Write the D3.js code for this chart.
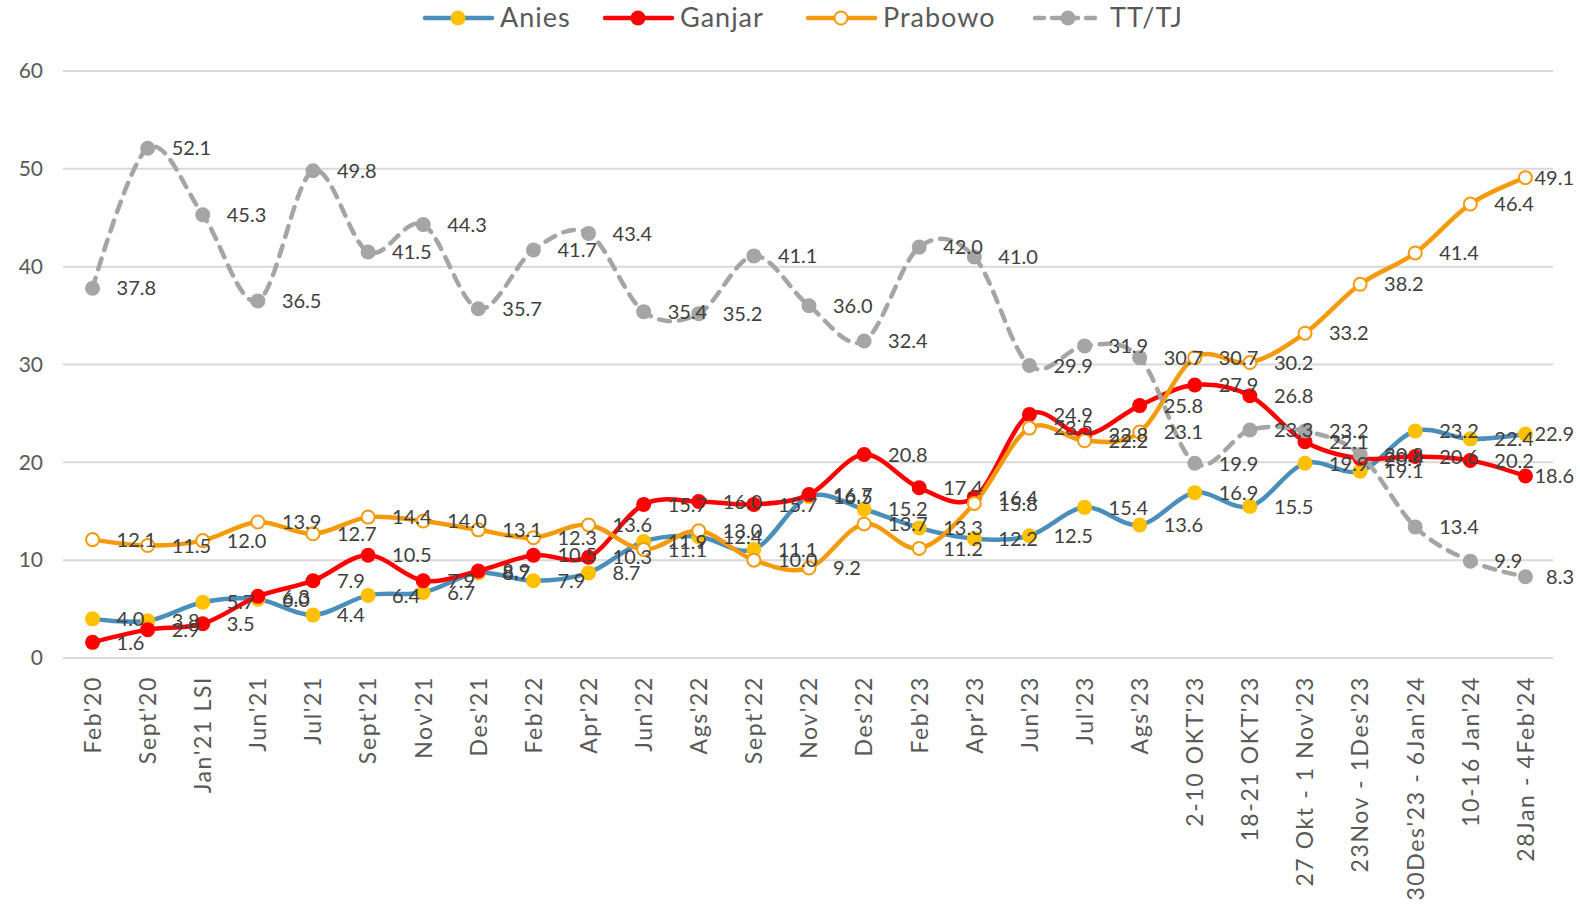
<!DOCTYPE html>
<html>
<head>
<meta charset="utf-8">
<script src="https://cdn.jsdelivr.net/npm/d3@7"></script>
<style>
  body { margin: 0; background: #fff; }
  text { font-family: Lato, "Open Sans", sans-serif; }
</style>
</head>
<body>
<div class="root"></div>
<script>
const categories = ["Feb'20", "Sept'20", "Jan'21 LSI", "Jun'21", "Jul'21", "Sept'21", "Nov'21", "Des'21",
  "Feb'22", "Apr'22", "Jun'22", "Ags'22", "Sept'22", "Nov'22", "Des'22", "Feb'23", "Apr'23", "Jun'23",
  "Jul'23", "Ags'23", "2-10 OKT'23", "18-21 OKT'23", "27 Okt - 1 Nov'23", "23Nov - 1Des'23",
  "30Des'23 - 6Jan'24", "10-16 Jan'24", "28Jan - 4Feb'24"];

const anies = [4.0, 3.8, 5.7, 6.0, 4.4, 6.4, 6.7, 8.7, 7.9, 8.7, 11.9, 12.4, 11.1, 16.5, 15.2, 13.3, 12.2,
  12.5, 15.4, 13.6, 16.9, 15.5, 19.9, 19.1, 23.2, 22.4, 22.9];
const ganjar = [1.6, 2.9, 3.5, 6.3, 7.9, 10.5, 7.9, 8.9, 10.5, 10.3, 15.7, 16.0, 15.7, 16.7, 20.8, 17.4, 16.4,
  24.9, 22.8, 25.8, 27.9, 26.8, 22.1, 20.4, 20.6, 20.2, 18.6];
const prabowo = [12.1, 11.5, 12.0, 13.9, 12.7, 14.4, 14.0, 13.1, 12.3, 13.6, 11.1, 13.0, 10.0, 9.2, 13.7, 11.2,
  15.8, 23.5, 22.2, 23.1, 30.7, 30.2, 33.2, 38.2, 41.4, 46.4, 49.1];
const tttj = [37.8, 52.1, 45.3, 36.5, 49.8, 41.5, 44.3, 35.7, 41.7, 43.4, 35.4, 35.2, 41.1, 36.0, 32.4, 42.0,
  41.0, 29.9, 31.9, 30.7, 19.9, 23.3, 23.2, 20.8, 13.4, 9.9, 8.3];
const yTicks = [0, 10, 20, 30, 40, 50, 60];

const series = [
  { name: "Anies", values: anies, line: "#4a8fbb", dot: "#ffc000", dotStroke: "#ffc000", dash: null },
  { name: "Ganjar", values: ganjar, line: "#ff0000", dot: "#ff0000", dotStroke: "#ff0000", dash: null },
  { name: "Prabowo", values: prabowo, line: "#f59a0a", dot: "#ffffff", dotStroke: "#f59a0a", dash: null },
  { name: "TT/TJ", values: tttj, line: "#a5a5a5", dot: "#a5a5a5", dotStroke: "#a5a5a5", dash: "11,9" }
];

const width = 1580;
const height = 910;
const padLeft = 65;
const padRight = 1553;
const padTop = 71;
const padBottom = 658;
const labelLimit = 1574;

const svg = d3.select("div.root").append("svg")
  .attr("width", width)
  .attr("height", height);

const x = d3.scaleBand().domain(categories).range([padLeft, padRight]);
const y = d3.scaleLinear().domain([0, 60]).range([padBottom, padTop]);
const cx = d => x(d) + x.bandwidth() / 2;

// gridlines
svg.append("g")
  .selectAll("line")
  .data(yTicks)
  .enter()
  .append("line")
  .attr("x1", padLeft - 2)
  .attr("x2", padRight)
  .attr("y1", d => y(d))
  .attr("y2", d => y(d))
  .attr("stroke", "#d9d9d9")
  .attr("stroke-width", 2);

// y axis labels
const yaxis = d3.axisLeft(y).tickValues(yTicks).tickSize(0).tickPadding(0);
svg.append("g")
  .attr("transform", `translate(${padLeft - 22},0)`)
  .call(yaxis)
  .call(g => g.select(".domain").remove())
  .selectAll("text")
  .attr("font-size", 21)
  .attr("font-family", "Lato, sans-serif")
  .attr("fill", "#595959");

// x axis labels
const xaxis = d3.axisBottom(x).tickSize(0).tickPadding(0);
svg.append("g")
  .attr("transform", `translate(0,${padBottom + 18})`)
  .call(xaxis)
  .call(g => g.select(".domain").remove())
  .selectAll("text")
  .attr("font-size", 23)
  .attr("font-family", "Lato, sans-serif")
  .attr("fill", "#595959")
  .attr("text-anchor", "end")
  .attr("transform", "rotate(-90)")
  .attr("x", 0)
  .attr("y", 0)
  .attr("dy", "0.36em")
  .style("letter-spacing", "1.6px");

const line = d3.line()
  .x((d, i) => cx(categories[i]))
  .y(d => y(d))
  .curve(d3.curveCardinal.tension(0));

series.forEach(s => {
  const g = svg.append("g");
  g.append("path")
    .datum(s.values)
    .attr("d", line)
    .attr("fill", "none")
    .attr("stroke", s.line)
    .attr("stroke-width", 4.5)
    .attr("stroke-linecap", "round")
    .attr("stroke-dasharray", s.dash);
  g.selectAll("circle")
    .data(s.values)
    .enter()
    .append("circle")
    .attr("cx", (d, i) => cx(categories[i]))
    .attr("cy", d => y(d))
    .attr("r", s.name === "Prabowo" ? 6.5 : 7.5)
    .attr("fill", s.dot)
    .attr("stroke", s.dotStroke)
    .attr("stroke-width", s.name === "Prabowo" ? 2 : 0);
});

// data labels on top, pushed back inside the chart at the right edge
series.forEach(s => {
  svg.append("g")
    .selectAll("text")
    .data(s.values)
    .enter()
    .append("text")
    .attr("x", (d, i) => cx(categories[i]) + 24)
    .attr("y", d => y(d))
    .attr("dy", "0.36em")
    .attr("font-size", 20)
    .attr("fill", "#404040")
    .text(d => d.toFixed(1))
    .each(function () {
      const w = this.getComputedTextLength();
      const x0 = +this.getAttribute("x");
      if (x0 + w > labelLimit) this.setAttribute("x", labelLimit - w);
    });
});

// legend
const legendPos = [423, 603, 806, 1033];
const lg = svg.append("g");
series.forEach((s, i) => {
  const g = lg.append("g").attr("transform", `translate(${legendPos[i]},18)`);
  g.append("line")
    .attr("x1", 2).attr("x2", 69)
    .attr("y1", 0).attr("y2", 0)
    .attr("stroke", s.line)
    .attr("stroke-width", 4.5)
    .attr("stroke-linecap", "round")
    .attr("stroke-dasharray", s.dash ? "9,8" : null);
  g.append("circle")
    .attr("cx", 35).attr("cy", 0)
    .attr("r", s.name === "Prabowo" ? 6.5 : 7.5)
    .attr("fill", s.dot)
    .attr("stroke", s.dotStroke)
    .attr("stroke-width", s.name === "Prabowo" ? 2 : 0);
  g.append("text")
    .attr("x", 77)
    .attr("y", 0)
    .attr("dy", "0.35em")
    .attr("font-size", 27)
    .attr("fill", "#595959")
    .style("letter-spacing", "1px")
    .text(s.name);
});
</script>
</body>
</html>
